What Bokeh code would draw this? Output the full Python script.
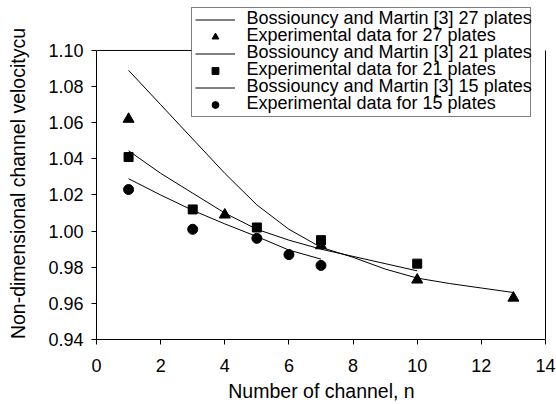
from bokeh.plotting import figure
from bokeh.models import Legend, LegendItem, Label, FixedTicker, NumeralTickFormatter, Range1d
from bokeh.embed import file_html
from bokeh.resources import INLINE

FONT = "Liberation Sans"

# Model curves (Bossiouncy and Martin [3])
n_27 = [1, 2, 3, 4, 5, 6, 7, 8, 9, 10, 11, 12, 13]
model_27 = [1.089, 1.070, 1.051, 1.032, 1.0145, 1.001, 0.991, 0.9855, 0.979, 0.974, 0.971, 0.9685, 0.966]
n_21 = [1, 2, 3, 4, 5, 6, 7, 8, 9, 10]
model_21 = [1.0445, 1.032, 1.021, 1.010, 1.001, 0.995, 0.990, 0.986, 0.982, 0.978]
n_15 = [1, 2, 3, 4, 5, 6, 7]
model_15 = [1.029, 1.020, 1.0115, 1.004, 0.997, 0.9895, 0.9845]

# Experimental data
exp_n_27 = [1, 4, 7, 10, 13]
exp_27 = [1.062, 1.009, 0.992, 0.973, 0.963]
exp_n_21 = [1, 3, 5, 7, 10]
exp_21 = [1.041, 1.012, 1.002, 0.995, 0.982]
exp_n_15 = [1, 3, 5, 6, 7]
exp_15 = [1.023, 1.001, 0.996, 0.987, 0.981]

x_ticks = [0, 2, 4, 6, 8, 10, 12, 14]
y_ticks = [0.94, 0.96, 0.98, 1.00, 1.02, 1.04, 1.06, 1.08, 1.10]
x_lim = (0, 14)
y_lim = (0.94, 1.10)

x_title = "Number of channel, n"
# trailing no-break spaces keep the title centred on the axes box rather than the drawing area
y_title = "Non-dimensional channel velocitycu" + "\u00a0" * 5
legend_labels = [
    "Bossiouncy and Martin [3] 27 plates",
    "Experimental data for 27 plates",
    "Bossiouncy and Martin [3] 21 plates",
    "Experimental data for 21 plates",
    "Bossiouncy and Martin [3] 15 plates",
    "Experimental data for 15 plates",
]

W, H = 556, 404
LEFT, RIGHT, BOTTOM = 96, 10, 60
FRAME_W, FRAME_H = W - LEFT - RIGHT, H - BOTTOM
AXES_TOP = 50.7          # pixel row of the upper axes limit
AXES_RIGHT = 449         # pixel column (from frame left) of the right axes limit
LEGEND_LEFT = 95         # pixel column (from frame left) of the legend box

# the drawing area reaches the top of the page so the legend can sit above the axes box
y_top = y_lim[1] + (y_lim[1] - y_lim[0]) * AXES_TOP / (FRAME_H - AXES_TOP)
x_end = x_lim[0] + (x_lim[1] - x_lim[0]) * FRAME_W / AXES_RIGHT
x_legend_left = x_lim[0] + (x_end - x_lim[0]) * LEGEND_LEFT / FRAME_W

p = figure(width=W, height=H, output_backend="svg", toolbar_location=None,
           x_range=Range1d(x_lim[0], x_end), y_range=Range1d(y_lim[0], y_top),
           min_border_left=LEFT, min_border_right=RIGHT, min_border_top=0,
           min_border_bottom=BOTTOM)
p.background_fill_color = "white"
p.border_fill_color = "white"
p.outline_line_color = None
p.grid.visible = False

for ax in (p.xaxis[0], p.yaxis[0]):
    ax.major_label_text_font = FONT
    ax.major_label_text_font_size = "18px"
    ax.major_label_text_color = "black"
    ax.axis_label_text_font = FONT
    ax.axis_label_text_font_style = "normal"
    ax.axis_label_text_color = "black"
    ax.axis_line_color = "black"
    ax.major_tick_line_color = "black"
    ax.major_tick_in = 0
    ax.major_tick_out = 5
    ax.minor_tick_line_color = None

p.xaxis.bounds = x_lim
p.yaxis.bounds = y_lim
p.xaxis.ticker = FixedTicker(ticks=x_ticks)
p.yaxis.ticker = FixedTicker(ticks=y_ticks)
p.yaxis.formatter = NumeralTickFormatter(format="0.00")
p.xaxis.major_label_standoff = 14
p.yaxis.major_label_standoff = 8
p.xaxis.axis_label = x_title
p.xaxis.axis_label_text_font_size = "19.5px"
p.xaxis.axis_label_standoff = 5
p.yaxis.axis_label = y_title
p.yaxis.axis_label_text_font_size = "19.5px"
p.yaxis.axis_label_standoff = 16

# top side of the axes box (up to the legend) and right side
p.segment(x0=[x_lim[0], x_lim[1]], y0=[y_lim[1], y_lim[0]],
          x1=[x_legend_left, x_lim[1]], y1=[y_lim[1], y_lim[1]],
          line_color="black", line_width=1)

r_m27 = p.line(n_27, model_27, line_color="black", line_width=1)
r_e27 = p.scatter(exp_n_27, exp_27, marker="triangle", size=11, color="black")
r_m21 = p.line(n_21, model_21, line_color="black", line_width=1)
r_e21 = p.scatter(exp_n_21, exp_21, marker="square", size=9, color="black")
r_m15 = p.line(n_15, model_15, line_color="black", line_width=1)
r_e15 = p.scatter(exp_n_15, exp_15, marker="circle", size=10, color="black")

# legend box with the symbols; its texts are set as labels so rows stay tight
ROW = 17
PAD = 3
renderers = [r_m27, r_e27, r_m21, r_e21, r_m15, r_e15]
legend = Legend(items=[LegendItem(label=" ", renderers=[r]) for r in renderers],
                location=(LEGEND_LEFT, 222))
legend.label_text_font_size = "1px"
legend.glyph_width = 40
legend.glyph_height = ROW
legend.label_height = ROW
legend.label_width = 286
legend.label_standoff = 6
legend.spacing = 0
legend.padding = PAD
legend.margin = 0
legend.border_line_color = "black"
legend.border_line_width = 1
legend.background_fill_alpha = 0
p.add_layout(legend, "center")

for i, txt in enumerate(legend_labels):
    cy = 22 + ROW * i
    p.add_layout(Label(x=150, y=FRAME_H - cy, x_units="screen", y_units="screen", text=txt,
                       text_font=FONT, text_font_size="18px", text_color="black",
                       text_baseline="middle", text_align="left"))

open("out.html", "w").write(file_html(p, INLINE))
